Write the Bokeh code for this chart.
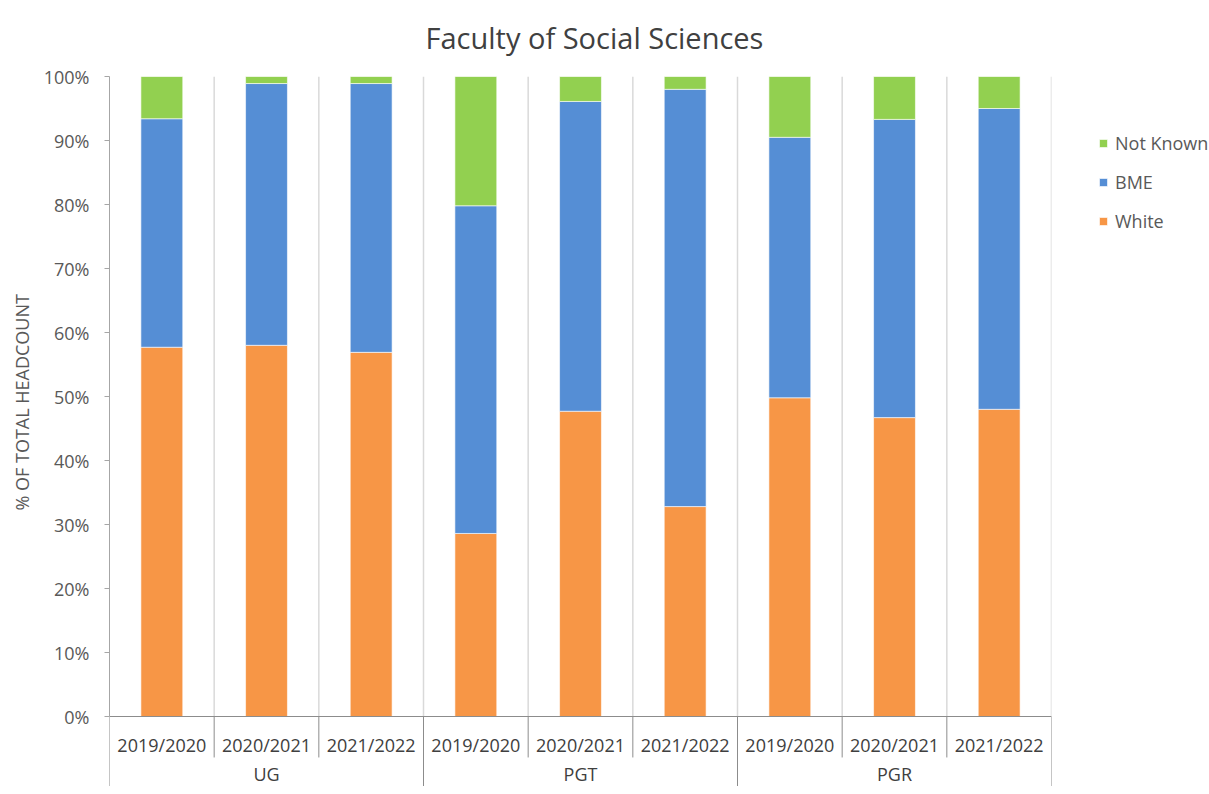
from bokeh.plotting import figure
from bokeh.models import Range1d, FixedTicker, NumeralTickFormatter, Legend, LegendItem, Title, ColumnDataSource
from bokeh.core.properties import value
from bokeh.embed import file_html
from bokeh.resources import INLINE

# ---- data ----
groups = ["UG", "PGT", "PGR"]
years = ["2019/2020", "2020/2021", "2021/2022"]
white = [57.7, 58.0, 56.9, 28.6, 47.7, 32.8, 49.8, 46.7, 48.0]
bme = [35.7, 40.9, 42.0, 51.2, 48.4, 65.2, 40.7, 46.6, 47.0]
not_known = [round(100 - w - b, 1) for w, b in zip(white, bme)]
y_ticks = [0, 10, 20, 30, 40, 50, 60, 70, 80, 90, 100]

FONT = "Open Sans"
n_groups = len(groups)
n_years = len(years)
n = n_groups * n_years

src = ColumnDataSource(dict(
    x=[i + 0.5 for i in range(n)],
    White=[v / 100 for v in white],
    BME=[v / 100 for v in bme],
    NotKnown=[v / 100 for v in not_known],
))

p = figure(frame_width=942, frame_height=710,
           x_range=Range1d(0, n), y_range=Range1d(-0.109375, 1.0),
           x_axis_type=None, output_backend="svg", toolbar_location=None,
           min_border_left=109, min_border_top=76, min_border_bottom=0,
           min_border_right=142)
p.outline_line_color = None
p.ygrid.grid_line_color = None
p.background_fill_color = "white"

p.title.text = "Faculty of Social Sciences"
p.title.align = "left"
p.title.vertical_align = "top"
p.title.text_font = FONT
p.title.text_font_size = "29px"
p.title.text_font_style = "normal"
p.title.text_color = "#404040"
p.title.standoff = 35
p.title.offset = 316

# vertical gridlines at category boundaries
p.segment(x0=list(range(1, n + 1)), y0=[0] * n, x1=list(range(1, n + 1)), y1=[1] * n,
          line_color="#D9D9D9", line_width=1.5)

colors = ["#F79646", "#558ED5", "#92D050"]
rs = p.vbar_stack(["White", "BME", "NotKnown"], x="x", width=0.4, source=src,
                  color=colors, line_color="white", line_width=0.6)

# y axis
ya = p.yaxis[0]
ya.ticker = FixedTicker(ticks=[t / 100 for t in y_ticks])
ya.formatter = NumeralTickFormatter(format="0%")
ya.bounds = (0, 1)
ya.axis_line_color = "#A6A6A6"
ya.major_tick_line_color = "#A6A6A6"
ya.major_tick_out = 5
ya.major_tick_in = 0
ya.minor_tick_line_color = None
ya.major_label_text_font = FONT
ya.major_label_text_font_size = "18px"
ya.major_label_text_color = "#595959"
ya.major_label_standoff = 15

p.add_layout(Title(text="% OF TOTAL HEADCOUNT", align="left", offset=276, standoff=13,
                   text_font=FONT, text_font_size="18px", text_font_style="normal",
                   text_color="#595959"), "left")

# category axis (drawn below the zero line)
axis_col = "#8C8C8C"
p.segment(x0=[0], y0=[0], x1=[n], y1=[0], line_color=axis_col, line_width=1)
inner = [i for i in range(1, n) if i % n_years != 0]
p.segment(x0=inner, y0=[0] * len(inner), x1=inner, y1=[-0.064] * len(inner),
          line_color=axis_col, line_width=1)
outer = [i * n_years for i in range(n_groups + 1)]
p.segment(x0=outer, y0=[0] * len(outer), x1=outer, y1=[-0.12] * len(outer),
          line_color=axis_col, line_width=1)

p.text(x=[i + 0.5 for i in range(n)], y=[-0.0453] * n, text=years * n_groups,
       text_font=value(FONT), text_font_size="18px", text_color="#404040",
       text_align="center", text_baseline="middle")
p.text(x=[g * n_years + n_years / 2 for g in range(n_groups)], y=[-0.09] * n_groups,
       text=groups, text_font=value(FONT), text_font_size="18px", text_color="#404040",
       text_align="center", text_baseline="middle")

legend = Legend(items=[LegendItem(label="Not Known", renderers=[rs[2]]),
                       LegendItem(label="BME", renderers=[rs[1]]),
                       LegendItem(label="White", renderers=[rs[0]])],
                location=(47, 553), margin=0, padding=0,
                border_line_color=None, background_fill_alpha=0,
                label_text_font=FONT, label_text_font_size="18px",
                label_text_color="#595959", glyph_width=10, glyph_height=10,
                label_standoff=7, spacing=15)
p.add_layout(legend, "right")

open("out.html", "w").write(file_html(p, INLINE))
